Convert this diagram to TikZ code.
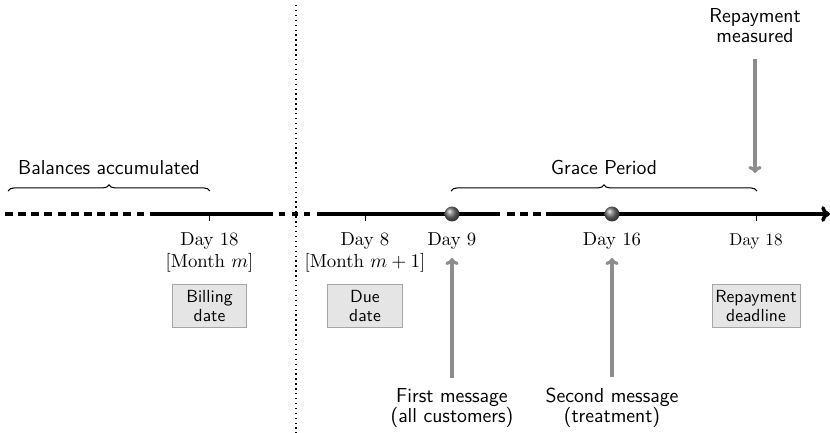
\documentclass[tikz,border=0pt]{standalone}
\usetikzlibrary{positioning}
\usetikzlibrary{arrows.meta}
\usetikzlibrary{decorations.pathreplacing}

\begin{document}
\begin{tikzpicture}
		[x=0.57pt,y=-0.57pt,
		 every node/.style={inner sep=0pt},
		 day/.style={align=center,font=\fontsize{10.7}{12.4}\selectfont},
		 datebox/.style={rectangle,draw=gray!70,fill=gray!20,align=center,minimum width=42.5pt,minimum height=24.5pt,font=\fontsize{10}{10.8}\sffamily},
		 note/.style={align=center,font=\fontsize{11.5}{11.5}\sffamily},
		 axis/.style={line width=2pt},
		 gap/.style={axis,dash pattern=on 4.5pt off 3pt},
		 pointer/.style={draw=black!45,line width=1.8pt,-{To[length=4pt,width=7.5pt]}},
		 event/.style={circle,shading=ball,ball color=black!55,minimum size=8.5pt},
		 span/.style={decorate,decoration={brace,amplitude=3.5pt},semithick}]
		\useasboundingbox (0,0) rectangle (830,433);

		% the time axis
		\coordinate (a0) at (5,214);
		\coordinate (a1) at (152,214);
		\coordinate (a2) at (273,214);
		\coordinate (a3) at (279,214);
		\coordinate (a4) at (323,214);
		\coordinate (a5) at (500,214);
		\coordinate (a6) at (507,214);
		\coordinate (a7) at (553,214);
		\coordinate (a8) at (830,214);
		\draw [gap] (a0) -- (a1);
		\draw [axis] (a1) -- (a2);
		\draw [axis,dash pattern=on 3.5pt off 3.7pt] (a3) -- (a4);
		\draw [axis] (a4) -- (a5);
		\draw [gap] (a6) -- (a7);
		\draw [axis,-{To[length=5pt,width=9pt]}] (a7) -- (a8);

		% month boundary
		\coordinate (top) at (296,5);
		\coordinate (bot) at (296,433);
		\draw [dotted,line width=0.8pt] (top) -- (bot);

		% ticks and dates
		\coordinate (bill) at (209.5,214);
		\coordinate (due) at (365,214);
		\coordinate (d9) at (452,214);
		\coordinate (d16) at (612,214);
		\coordinate (dead) at (756,214);
		\foreach \t in {bill,due,dead}
			\draw [thin] (\t) -- ++(0,7);
		\node (e9) [event] at (d9) {};
		\node (e16) [event] at (d16) {};

		\node (lbill) [day,below=10.5pt of bill] {Day 18\\{}[Month $m$]};
		\node (ldue) [day,below=10.5pt of due] {Day 8\\{}[Month $m+1$]};
		\node (l9) [day,below=10.5pt of d9] {Day 9};
		\node (l16) [day,below=10.5pt of d16] {Day 16};
		\node (ldead) [day,below=11pt of dead,font=\fontsize{9.8}{11}\selectfont] {Day 18};

		\node (billing) [datebox] at (209.5,306) {Billing\\date};
		\node (duedate) [datebox] at (365,306) {Due\\date};
		\node (deadline) [datebox,minimum width=50pt] at (756,306) {Repayment\\deadline};

		% spans
		\coordinate (s0) at (8,191);
		\coordinate (s1) at (210,191);
		\draw [span] (s0) -- (s1)
			node [note,midway,above=9pt] {Balances accumulated};
		\coordinate (g0) at (451,191);
		\coordinate (g1) at (757,191);
		\draw [span] (g0) -- (g1)
			node [note,midway,above=9pt] {Grace Period};

		% messages
		\node (first) [note] at (452,408) {First message\\(all customers)};
		\node (second) [note] at (612,408) {Second message\\(treatment)};
		\node (meas) [note] at (755,26) {Repayment\\measured};
		\coordinate (up9) at (452,258);
		\coordinate (up16) at (612,258);
		\coordinate (dn18) at (755,173);
		\draw [pointer,shorten <=6pt] (first.north) -- (up9);
		\draw [pointer,shorten <=6pt] (second.north) -- (up16);
		\draw [pointer,shorten <=9pt] (meas.south) -- (dn18);
\end{tikzpicture}
\end{document}
